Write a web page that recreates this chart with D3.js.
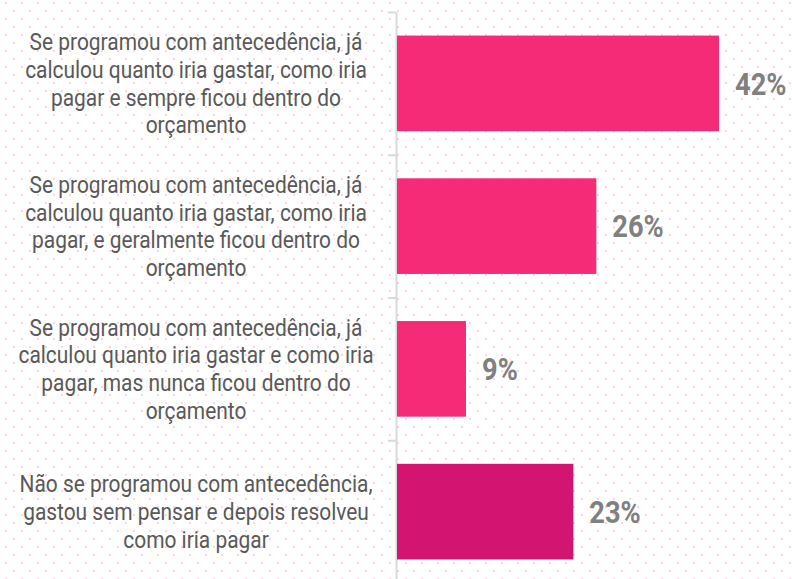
<!DOCTYPE html>
<html>
<head>
<meta charset="utf-8">
<script src="https://cdn.jsdelivr.net/npm/d3@7"></script>
<style>
  html, body { margin: 0; padding: 0; background: #fff; }
  svg { display: block; }
</style>
</head>
<body>
<script>
// données
const categories = [
  "Se programou com antecedência, já\ncalculou quanto iria gastar, como iria\npagar e sempre ficou dentro do\norçamento",
  "Se programou com antecedência, já\ncalculou quanto iria gastar, como iria\npagar, e geralmente ficou dentro do\norçamento",
  "Se programou com antecedência, já\ncalculou quanto iria gastar e como iria\npagar, mas nunca ficou dentro do\norçamento",
  "Não se programou com antecedência,\ngastou sem pensar e depois resolveu\ncomo iria pagar"
];
const values = [42, 26, 9, 23];
const colors = ["#f62b78", "#f62b78", "#f62b78", "#d31571"];

const W = 792, H = 579;

const svg = d3.select("body").append("svg").attr("width", W).attr("height", H);

// fond à pois
const defs = svg.append("defs");
const pat = defs.append("pattern").attr("id", "dots").attr("patternUnits", "userSpaceOnUse")
  .attr("width", 16).attr("height", 16).attr("x", 5).attr("y", 2);
pat.append("rect").attr("x", 0).attr("y", 0).attr("width", 2).attr("height", 2).attr("fill", "#f9d5e7");
pat.append("rect").attr("x", 8).attr("y", 8).attr("width", 2).attr("height", 2).attr("fill", "#f9d5e7");
svg.append("rect").attr("width", W).attr("height", H).attr("fill", "url(#dots)");

// échelles
const y = d3.scaleBand().domain(d3.range(values.length)).range([12, 583])
  .paddingInner(0.33).paddingOuter(0.165);
const x = d3.scaleLinear().domain([0, 42]).range([397, 719]);
const yAxisScale = d3.scaleLinear().domain([0, values.length]).range([12, 583]);

// axe
const axis = svg.append("g").attr("transform", "translate(396,0)")
  .call(d3.axisLeft(yAxisScale).tickValues(d3.range(values.length)).tickSize(8).tickSizeOuter(0).tickFormat(""));
axis.selectAll("path, line").attr("stroke", "#d9d9d9").attr("stroke-width", 2);

// barres
svg.selectAll("rect.bar").data(values).enter().append("rect")
  .attr("class", "bar")
  .attr("x", x(0))
  .attr("y", (d, i) => y(i))
  .attr("width", d => x(d) - x(0))
  .attr("height", y.bandwidth())
  .attr("fill", (d, i) => colors[i]);

// valeurs
svg.selectAll("text.val").data(values).enter().append("text")
  .attr("class", "val")
  .attr("transform", (d, i) => `translate(${x(d) + 16},${y(i) + y.bandwidth() / 2}) scale(0.88,1)`)
  .attr("dy", "0.36em")
  .attr("font-family", "Roboto")
  .attr("font-weight", "bold")
  .attr("font-size", 31)
  .attr("fill", "#808080")
  .text(d => d + "%");

// libellés
const lh = 27.7;
categories.forEach((c, i) => {
  const lines = c.split("\n");
  const cy = y(i) + y.bandwidth() / 2;
  lines.forEach((l, j) => {
    svg.append("text")
      .attr("transform", `translate(196,${cy + (j - (lines.length - 1) / 2) * lh}) scale(0.91,1)`)
      .attr("dy", "0.36em")
      .attr("text-anchor", "middle")
      .attr("font-family", "Roboto")
      .attr("font-size", 23)
      .attr("fill", "#595959")
      .text(l);
  });
});
</script>
</body>
</html>
